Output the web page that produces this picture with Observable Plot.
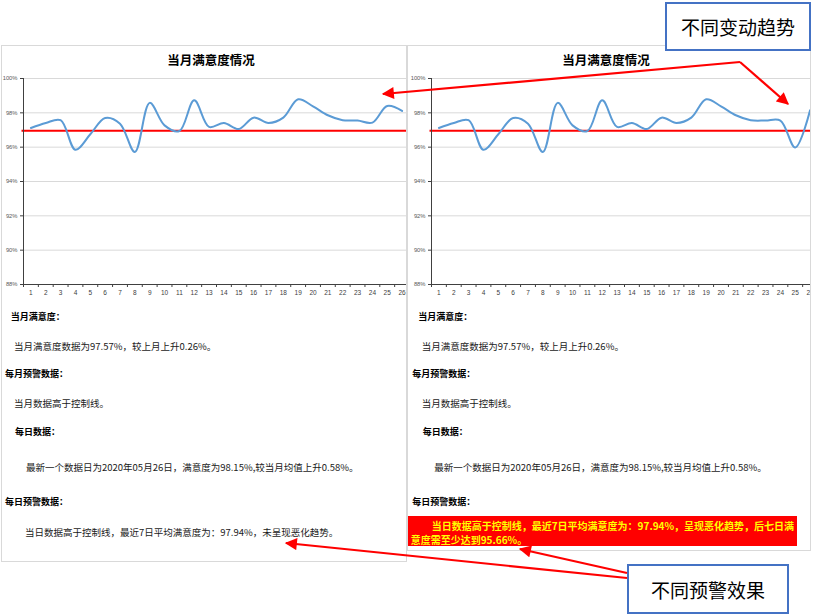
<!DOCTYPE html>
<html><head><meta charset="utf-8">
<script src="https://cdn.jsdelivr.net/npm/d3@7"></script>
<script src="https://cdn.jsdelivr.net/npm/@observablehq/plot@0.6"></script>
<style>
body{margin:0;background:#fff;font-family:"Noto Sans CJK SC","Noto Sans",sans-serif;}
#page{position:relative;width:829px;height:616px;overflow:hidden;background:#fff;}
.panel{position:absolute;border:1px solid #d9d9d9;overflow:hidden;background:#fff;box-sizing:border-box;}
.chart{position:absolute;}
.t{position:absolute;white-space:nowrap;font-size:9.5px;line-height:12px;color:#1a1a1a;}
.b{font-weight:bold;font-size:9px;color:#000;}
.ctitle{position:absolute;width:200px;text-align:center;font-weight:bold;font-size:12.5px;line-height:18px;color:#000;}
.redbox{position:absolute;background:#ff0000;}
.yl{position:absolute;white-space:nowrap;font-weight:bold;font-size:10px;line-height:13px;color:#ffff00;}
.note{position:absolute;box-sizing:border-box;border:2px solid #4472c4;background:#fff;display:flex;align-items:center;justify-content:center;font-size:19px;color:#000;}
#arrows{position:absolute;left:0;top:0;pointer-events:none;}
</style></head>
<body><div id="page"></div>
<script>
// ---- data ----
const days = [1,2,3,4,5,6,7,8,9,10,11,12,13,14,15,16,17,18,19,20,21,22,23,24,25,26];
const leftValues = [97.12,97.41,97.57,95.85,96.75,97.70,97.37,95.72,98.58,97.27,96.94,98.73,97.18,97.41,97.06,97.72,97.41,97.72,98.79,98.38,97.86,97.57,97.55,97.43,98.40,98.11];
const rightValues = [97.12,97.41,97.57,95.85,96.75,97.70,97.37,95.72,98.58,97.27,96.94,98.73,97.18,97.41,97.06,97.72,97.41,97.72,98.79,98.38,97.86,97.57,97.55,97.55,95.98,98.15];
const controlLine = 96.95;
const yTicks = [88,90,92,94,96,98,100];
const chartTitle = "当月满意度情况";

const leftTexts = [
  ["当月满意度：", true],
  ["当月满意度数据为97.57%，较上月上升0.26%。", false],
  ["每月预警数据：", true],
  ["当月数据高于控制线。", false],
  ["每日数据：", true],
  ["最新一个数据日为2020年05月26日，满意度为98.15%,较当月均值上升0.58%。", false],
  ["每日预警数据：", true],
  ["当日数据高于控制线，最近7日平均满意度为：97.94%，未呈现恶化趋势。", false]
];
const rightTexts = leftTexts.slice(0,7);
const rightWarning = ["当日数据高于控制线，最近7日平均满意度为：97.94%，呈现恶化趋势，后七日满", "意度需至少达到95.66%。"];
const noteTop = "不同变动趋势";
const noteBottom = "不同预警效果";

// layout helpers (positions only)
const rowY = [317.3,346,374,403.3,432,466.7,502.3,532.3];
const leftX = [10.7,14,5,14,15,26,5,25];
const rightX = [418.3,421.7,412.3,421.7,422.7,434.3,412.3];

const page = document.getElementById("page");
function el(cls, css, html){const d=document.createElement("div");d.className=cls;Object.assign(d.style,css);if(html!=null)d.textContent=html;page.appendChild(d);return d;}

function makeChart(values){
  const data = days.map((d,i)=>({day:d, v:values[i]}));
  const bounds = d3.range(0.5, 27, 1);
  return Plot.plot({
    width:410, height:230, marginTop:8, marginBottom:16, marginLeft:21, marginRight:3,
    style:{background:"transparent", fontFamily:"Liberation Sans, Arial, sans-serif"},
    x:{type:"linear", domain:[0.5,26.5], label:null},
    y:{domain:[88,100], label:null},
    marks:[
      Plot.gridY(yTicks, {stroke:"#d9d9d9", strokeOpacity:1}),
      Plot.ruleY([controlLine], {x1:0.4, x2:26.5, stroke:"#ff0000", strokeWidth:2}),
      Plot.line(data, {x:"day", y:"v", curve:"catmull-rom", stroke:"#5b9bd5", strokeWidth:2}),
      Plot.ruleX([0.5], {stroke:"#404040", strokeWidth:1}),
      Plot.ruleY([88], {stroke:"#404040", strokeWidth:1}),
      Plot.axisY(yTicks, {tickFormat:d=>d+"%", fontSize:5.8, fill:"#595959", stroke:"#404040", tickSize:3, tickPadding:3, label:null}),
      Plot.axisX(bounds, {tickFormat:()=>"", tickSize:3, stroke:"#404040", label:null}),
      Plot.axisX(days, {tickSize:0, tickPadding:6, fontSize:6.5, fill:"#404040", label:null})
    ]
  });
}

// panels
const lp = el("panel", {left:"1px", top:"45px", width:"406px", height:"517px"});
const rp = el("panel", {left:"407px", top:"45px", width:"404px", height:"506px"});
const c1 = makeChart(leftValues);
Object.assign(c1.style,{left:"0px", top:"24px", position:"absolute", maxWidth:"none", width:"410px", height:"230px"}); lp.appendChild(c1);
const c2 = makeChart(rightValues);
Object.assign(c2.style,{left:"2px", top:"24px", position:"absolute", maxWidth:"none", width:"410px", height:"230px"}); rp.appendChild(c2);

el("ctitle", {left:(211-100)+"px", top:(60-9)+"px"}, chartTitle);
el("ctitle", {left:(606-100)+"px", top:(60-9)+"px"}, chartTitle);

leftTexts.forEach(([s,b],i)=>el(b?"t b":"t", {left:leftX[i]+"px", top:(rowY[i]-6)+"px"}, s));
rightTexts.forEach(([s,b],i)=>el(b?"t b":"t", {left:rightX[i]+"px", top:(rowY[i]-6)+"px"}, s));

el("redbox", {left:"408px", top:"516px", width:"389px", height:"30px"});
el("yl", {left:"431.7px", top:(525.7-6.5)+"px"}, rightWarning[0]);
el("yl", {left:"410.7px", top:(539-6.5)+"px"}, rightWarning[1]);

el("note", {left:"665px", top:"2px", width:"146px", height:"49px"}, noteTop);
el("note", {left:"627px", top:"564px", width:"162px", height:"50px"}, noteBottom);

// annotation arrows
const ns = "http://www.w3.org/2000/svg";
const svg = document.createElementNS(ns,"svg");
svg.setAttribute("id","arrows"); svg.setAttribute("width",829); svg.setAttribute("height",616);
svg.innerHTML = `<defs><marker id="ah" viewBox="0 0 10 10" refX="9" refY="5" markerWidth="6" markerHeight="5.5" orient="auto" markerUnits="strokeWidth"><path d="M0,0 L10,5 L0,10 z" fill="#ff0000"/></marker></defs>`;
const arrows = [[740,62,383,94],[740,62,788,104],[627,578,286,543],[627,573,520,549]];
arrows.forEach(([x1,y1,x2,y2])=>{
  const l=document.createElementNS(ns,"line");
  l.setAttribute("x1",x1);l.setAttribute("y1",y1);l.setAttribute("x2",x2);l.setAttribute("y2",y2);
  l.setAttribute("stroke","#ff0000");l.setAttribute("stroke-width","2.2");l.setAttribute("marker-end","url(#ah)");
  svg.appendChild(l);
});
page.appendChild(svg);
</script>
</body></html>
